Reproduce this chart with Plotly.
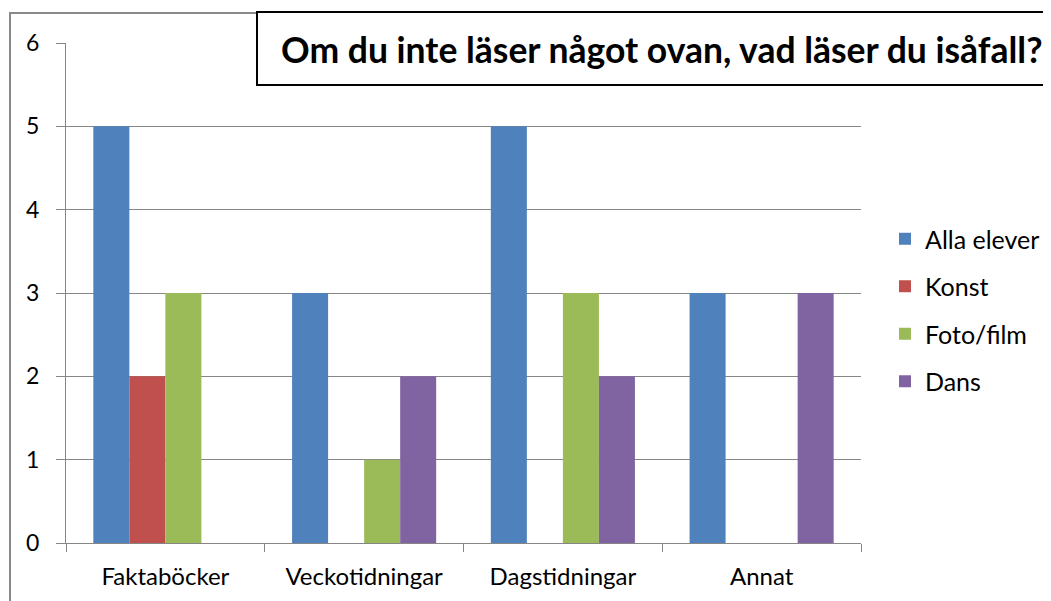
import plotly.graph_objects as go

categories = ["Faktaböcker", "Veckotidningar", "Dagstidningar", "Annat"]
series_names = ["Alla elever", "Konst", "Foto/film", "Dans"]
alla_elever = [5, 3, 5, 3]
konst = [2, 0, 0, 0]
foto_film = [3, 1, 3, 0]
dans = [0, 2, 2, 3]
colors = ["#4F81BD", "#C0504D", "#9BBB59", "#8064A2"]
title_text = "Om du inte läser något ovan, vad läser du isåfall?"

values = [alla_elever, konst, foto_film, dans]

fig = go.Figure()
for i, (name, vals, col) in enumerate(zip(series_names, values, colors)):
    fig.add_trace(go.Bar(x=categories, y=vals, name=name, marker_color=col,
                         marker_line_width=0, legendgroup=name))

OFF = 8  # page body margin
W, H = 1051 - OFF, 601 - OFF
# plot area in page pixels
L, R, T, B = 66, 861, 43, 543
def px(x): return (x - L) / (R - L)
def py(y): return (B - y) / (B - T)

grid = "#868686"
font = "Lato, Open Sans, sans-serif"

fig.update_layout(
    width=W, height=H,
    margin=dict(l=L - OFF, r=1051 - R, t=T - OFF, b=601 - B, pad=0, autoexpand=False),
    paper_bgcolor="white", plot_bgcolor="white",
    barmode="group", bargap=0.275, bargroupgap=0,
    font=dict(family=font, color="black", size=24),
    legend=dict(x=px(885), y=py(216), xanchor="left", yanchor="top",
                font=dict(size=25, family=font), traceorder="grouped",
                tracegroupgap=12, itemwidth=30),
    showlegend=True,
)
fig.update_yaxes(range=[0, 6], dtick=1, showgrid=True, gridcolor=grid, gridwidth=1,
                 showline=True, linecolor=grid, linewidth=1, ticks="outside",
                 ticklen=9, tickcolor=grid, tickfont=dict(size=23), zeroline=False,
                 ticklabelstandoff=12)
fig.update_xaxes(showline=True, linecolor=grid, linewidth=1, ticks="outside",
                 tickson="boundaries", ticklen=8, tickcolor=grid,
                 tickfont=dict(size=24), ticklabelstandoff=12)

fig.add_shape(type="rect", xref="paper", yref="paper",
              x0=px(10), x1=px(1070), y0=py(620), y1=py(13),
              line=dict(color="#898989", width=2), fillcolor="rgba(0,0,0,0)", layer="below")
fig.add_shape(type="rect", xref="paper", yref="paper",
              x0=px(257), x1=px(1070), y0=py(85), y1=py(12),
              line=dict(color="black", width=2), fillcolor="white", layer="above")
fig.add_annotation(text="<b>" + title_text + "</b>", xref="paper", yref="paper",
                   x=px(661), y=py(49), xanchor="center", yanchor="middle",
                   showarrow=False, font=dict(size=35.5, family=font, color="black"))

fig.write_html("out.html")
